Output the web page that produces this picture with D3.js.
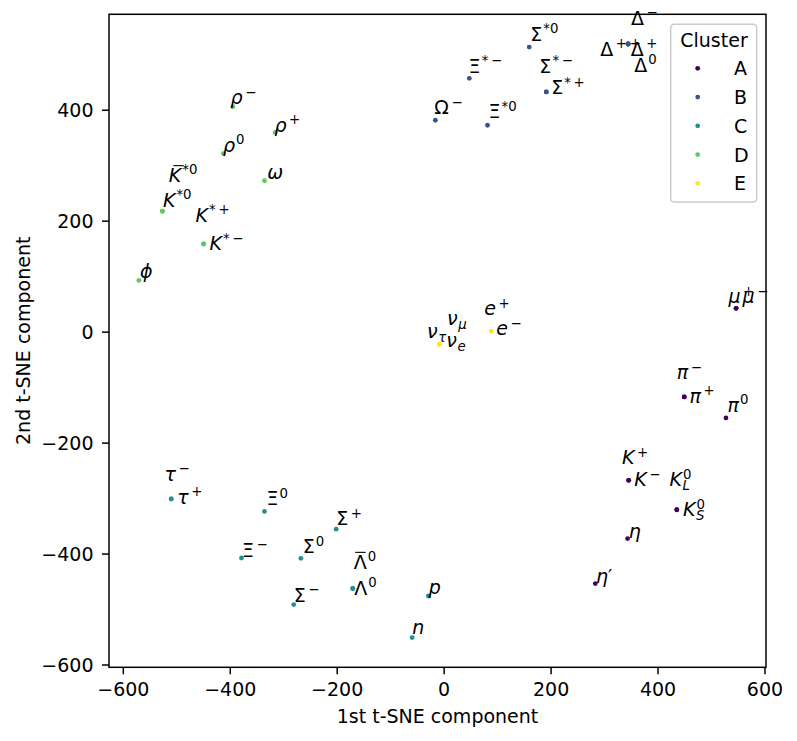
<!DOCTYPE html>
<html><head><meta charset="utf-8">
<script src="https://cdn.jsdelivr.net/npm/d3@7"></script>
<style>
body{margin:0;background:#fff}
svg{display:block}
text{font-family:"DejaVu Sans",sans-serif;fill:#000}
</style>
</head><body>
<svg id="chart" width="797" height="741"></svg>
<script>
// ---- data ----
// label syntax: base[_sub][^sup]; a "¯" after a letter means an overbar
const labels = [
  "μ^+","μ^−","π^−","π^+","π^0","K^+","K^−","K_L^0","K_S^0","η","η′",
  "Δ^−","Δ^++","Δ^+","Δ^0","Σ^*0","Ξ^*−","Σ^*−","Σ^*+","Ω^−","Ξ^*0",
  "τ^−","τ^+","Ξ^0","Σ^+","Ξ^−","Σ^0","Λ¯^0","Λ^0","Σ^−","p","n",
  "ρ^−","ρ^+","ρ^0","ω","K¯^*0","K^*0","K^*+","K^*−","ϕ",
  "ν_μ","ν_τ","ν_e","e^+","e^−"
];
const tsneX = [
  547,547,450,450,528,346,346,436,436,344,283.6,
  345,345,345,345,160,48,192,192,-15.5,82,
  -509.5,-509.5,-335,-201,-378,-267,-170,-170,-280.4,-28.6,-59,
  -394.4,-315,-412,-335,-526,-526,-449,-449,-570,
  -8,-8,-8,89,89
];
const tsneY = [
  42,42,-117.6,-117.6,-155.5,-268,-268,-321,-321,-373,-454,
  518.5,518.5,518.5,518.5,513,456.6,432,432,381,372,
  -301.5,-301.5,-324,-356,-408,-408.5,-463,-463,-492,-476.5,-551.5,
  405.4,359,321,272,217,217,158,158,92.3,
  -22.5,-22.5,-22.5,1,1
];
const clusters = [
  "A","A","A","A","A","A","A","A","A","A","A",
  "B","B","B","B","B","B","B","B","B","B",
  "C","C","C","C","C","C","C","C","C","C","C",
  "D","D","D","D","D","D","D","D","D",
  "E","E","E","E","E"
];
// where each text label sits (data units, left / baseline)
const labelX = [
  532.7,559,436,460,531,333.5,356.4,422.4,447.5,346,285,
  350.5,293,350,356.5,162,46.7,179,201,-17.4,84,
  -522,-498.3,-331.4,-201,-377,-263.6,-168.2,-167,-280.4,-28,-58.5,
  -398.5,-316.4,-412.6,-330,-514,-525,-464,-438,-568,
  6.4,-31,5,76,98.5
];
const labelY = [
  51,51,-86,-128,-144.6,-239,-278.6,-278.6,-332.7,-372,-453,
  553,497,497,468.5,524,467,467,428,392,384.5,
  -269,-309.8,-313,-349,-406,-399,-427,-474,-487,-472,-545.5,
  410,360,324,276,270,225,198,147,96,
  11.7,-12.3,-28.5,30,-6.3
];
const clusterNames = ["A","B","C","D","E"];
const clusterColors = ["#440154","#3b528b","#21918c","#5ec962","#fde725"];
const xTicks = [-600,-400,-200,0,200,400,600];
const yTicks = [-600,-400,-200,0,200,400];
const xTitle = "1st t-SNE component";
const yTitle = "2nd t-SNE component";
const legendTitle = "Cluster";

// ---- layout ----
const FS = 19;
const plot = {left:109, right:766, top:14.3, bottom:667.3};
const svg = d3.select("#chart");

function padded(ext){ const p=(ext[1]-ext[0])*0.05; return [ext[0]-p, ext[1]+p]; }
const x = d3.scaleLinear().domain(padded(d3.extent(tsneX))).range([plot.left, plot.right]);
const y = d3.scaleLinear().domain(padded(d3.extent(tsneY))).range([plot.bottom, plot.top]);
const color = d3.scaleOrdinal().domain(clusterNames).range(clusterColors);

// axes
const fmt = d => d3.format("d")(d).replace("-", "\u2212");
const gx = svg.append("g").attr("transform",`translate(0,${plot.bottom})`)
  .call(d3.axisBottom(x).tickValues(xTicks).tickSize(7).tickPadding(8.4).tickFormat(fmt));
const gy = svg.append("g").attr("transform",`translate(${plot.left},0)`)
  .call(d3.axisLeft(y).tickValues(yTicks).tickSize(7).tickPadding(8.5).tickFormat(fmt));
[gx,gy].forEach(g=>{
  g.select(".domain").remove();
  g.selectAll(".tick line").attr("stroke","#000").attr("stroke-width",1.5);
  g.selectAll(".tick text").attr("font-size",FS).attr("font-family","DejaVu Sans").attr("fill","#000");
});
gy.selectAll(".tick text").attr("dy","0.38em");

// points
svg.append("g").selectAll("circle").data(labels).join("circle")
  .attr("cx",(d,i)=>x(tsneX[i])).attr("cy",(d,i)=>y(tsneY[i]))
  .attr("r",2.4).attr("fill",(d,i)=>color(clusters[i]));

// labels (mathtext-like)
const italicRe = /[A-Za-zα-ωϕ]/;
function addChars(t, s, opGap){
  let first = true;
  for (const ch of s) {
    const sp = t.append("tspan").attr("font-style", italicRe.test(ch) ? "italic" : "normal").text(ch);
    if (opGap && /[+\u2212]/.test(ch) && !first) sp.attr("dx", opGap);
    first = false;
  }
}
const gl = svg.append("g");
labels.forEach((lab,i)=>{
  let base = lab, sup = "", sub = "";
  const ci = base.indexOf("^"); if (ci>=0){ sup = base.slice(ci+1); base = base.slice(0,ci); }
  const si = base.indexOf("_"); if (si>=0){ sub = base.slice(si+1); base = base.slice(0,si); }
  const bar = base.includes("¯");
  base = base.replace("¯","");
  const px = x(labelX[i]), py = y(labelY[i]);
  const t = gl.append("text").attr("x",px).attr("y",py).attr("font-size",FS);
  addChars(t, base);
  const w = t.node().getComputedTextLength();
  if (bar) {
    const sl = italicRe.test(base) ? 3 : 0;
    gl.append("line").attr("x1",px+1.5+sl).attr("x2",px+w-1+sl)
      .attr("y1",py-16.2).attr("y2",py-16.2).attr("stroke","#000").attr("stroke-width",1.1);
  }
  if (sup) {
    const gap = /^[+\u2212]/.test(sup) ? 2.5 : 1;
    const s = gl.append("text").attr("x",px+w+gap).attr("y",py-7.5).attr("font-size",FS*0.7);
    addChars(s, sup, 2.8);
  }
  if (sub) {
    const s = gl.append("text").attr("x",px+w+0.5).attr("y",py+3.5).attr("font-size",FS*0.7);
    addChars(s, sub);
  }
});

// spines
svg.append("rect").attr("x",plot.left).attr("y",plot.top)
  .attr("width",plot.right-plot.left).attr("height",plot.bottom-plot.top)
  .attr("fill","none").attr("stroke","#000").attr("stroke-width",1.5);

// axis titles
svg.append("text").attr("x",(plot.left+plot.right)/2).attr("y",723)
  .attr("text-anchor","middle").attr("font-size",FS).text(xTitle);
svg.append("text").attr("transform",`translate(30,${(plot.top+plot.bottom)/2}) rotate(-90)`)
  .attr("text-anchor","middle").attr("font-size",FS).text(yTitle);

// legend
const lg = svg.append("g");
lg.append("rect").attr("x",670.7).attr("y",24.3).attr("width",86).attr("height",177.7)
  .attr("rx",3.5).attr("fill","#fff").attr("fill-opacity",0.8).attr("stroke","#cccccc").attr("stroke-width",1.5);
lg.append("text").attr("x",714).attr("y",46.7).attr("text-anchor","middle").attr("font-size",FS).text(legendTitle);
clusterNames.forEach((c,i)=>{
  const yy = 68.3 + i*28.75;
  lg.append("circle").attr("cx",697.7).attr("cy",yy).attr("r",2.4).attr("fill",color(c));
  lg.append("text").attr("x",734).attr("y",yy+7).attr("font-size",FS).text(c);
});
</script>
</body></html>
